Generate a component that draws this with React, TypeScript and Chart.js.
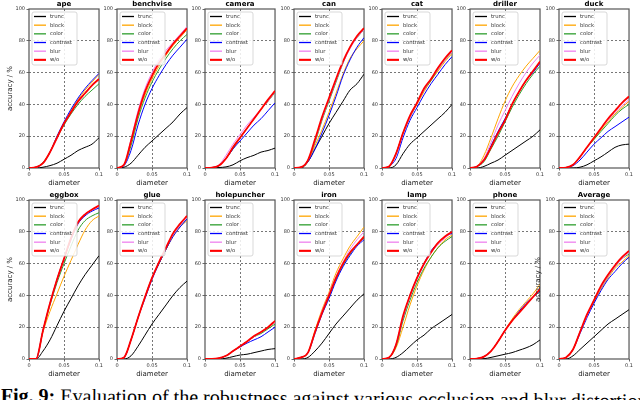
import React, { useEffect, useRef } from "react";
import { Chart, registerables } from "chart.js";

Chart.register(...registerables);

// ---------- data ----------
const DIAMETER = [0, 0.01, 0.02, 0.03, 0.04, 0.05, 0.06, 0.07, 0.08, 0.09, 0.1];
const SERIES_KEYS = ["trunc", "block", "color", "contrast", "blur", "wo"];
const SERIES_NAMES = ["trunc", "block", "color", "contrast", "blur", "w/o"];
const SERIES_COLORS = ["#000000", "#FFA500", "#2E9E2E", "#0000FF", "#EE82EE", "#FF0000"];
const SERIES_WIDTHS = [1, 1, 1, 1, 1, 1.8];
const Y_TICKS = [0, 20, 40, 60, 80, 100];
const X_TICKS = [0, 0.05, 0.1];

const ape = {
  trunc: [0, 0, 0.5, 1.5, 3, 5.5, 8, 11, 13, 15, 19],
  block: [0, 0.5, 3, 10, 20, 28, 36, 43, 49, 54, 59],
  color: [0, 0.5, 3.5, 10, 19, 27, 34, 40, 45, 49, 53],
  contrast: [0, 0.5, 3, 10, 20, 29, 37, 44, 50, 55, 59.5],
  blur: [0, 0.5, 3, 10, 19, 28, 35, 41, 47, 52, 56],
  wo: [0, 0.5, 3, 10, 19, 28, 35, 42, 47, 52, 56],
};
const benchvise = {
  trunc: [0, 0.5, 3, 8, 13, 17, 21, 25, 29, 34, 38],
  block: [0, 2, 16, 33, 46, 56, 64, 71, 77, 82, 87],
  color: [0, 2, 14, 31, 44, 54, 62, 69, 75, 80, 84],
  contrast: [0, 1.5, 11, 27, 40, 50, 58, 65, 71, 76, 81],
  blur: [0, 2, 18, 36, 50, 60, 68, 74, 79, 84, 89],
  wo: [0, 2, 17, 34, 48, 58, 66, 72, 78, 83, 88],
};
const camera = {
  trunc: [0, 0, 0.3, 0.7, 2, 4.5, 6.5, 8, 10, 11, 12.5],
  block: [0, 0.3, 1.5, 6, 13, 19, 25, 31, 37, 42, 48],
  color: [0, 0.3, 1.5, 6, 12, 19, 25, 31, 37, 42, 47.5],
  contrast: [0, 0.3, 1.5, 6, 12, 17, 22, 27, 31, 36, 41],
  blur: [0, 0.3, 2, 8, 15, 21, 27, 32, 37, 42, 48],
  wo: [0, 0.3, 1.5, 6, 13, 19, 25, 31, 37, 43, 48.5],
};
const can = {
  trunc: [0, 0, 4, 12, 20, 28, 35, 42, 49, 53, 59],
  block: [0, 0.5, 4, 14, 24, 35, 47, 59, 69, 75, 80],
  color: [0, 0.5, 5, 16, 30, 42, 54, 66, 76, 82, 87],
  contrast: [0, 0.5, 4, 12, 22, 33, 45, 58, 68, 76, 82],
  blur: [0, 0.5, 5, 17, 31, 43, 55, 66, 75, 82, 87],
  wo: [0, 0.5, 5, 18, 32, 44, 56, 67, 76, 83, 88],
};
const cat = {
  trunc: [0, 0, 2, 9, 15, 19, 23, 27, 31, 35, 40],
  block: [0, 1, 9, 22, 32, 40, 48, 55, 61, 67, 72],
  color: [0, 1, 9, 22, 32, 41, 49, 55, 62, 68, 73],
  contrast: [0, 1, 6, 19, 30, 38, 46, 53, 59, 65, 70],
  blur: [0, 1, 9, 22, 32, 41, 49, 56, 62, 68, 73],
  wo: [0, 1, 9, 22, 33, 41, 50, 56, 63, 69, 74],
};
const driller = {
  trunc: [0, 0, 1, 3, 5, 8, 11, 14, 17, 20, 24],
  block: [0, 1, 8, 19, 31, 42, 51, 58, 64, 69, 74],
  color: [0, 1, 4, 12, 20, 29, 38, 46, 53, 59, 64],
  contrast: [0, 1, 5, 14, 23, 31, 40, 48, 55, 60, 66],
  blur: [0, 1, 6, 16, 27, 36, 45, 53, 60, 66, 71],
  wo: [0, 1, 5, 13, 22, 30, 40, 48, 55, 61, 67],
};
const duck = {
  trunc: [0, 0, 0, 0.5, 2, 4.5, 7, 10, 13, 14.5, 15],
  block: [0, 0.3, 2, 7, 13, 18, 24, 29, 34, 38, 42],
  color: [0, 0.3, 2, 7, 13, 18, 23, 28, 33, 37, 40],
  contrast: [0, 0.3, 1.5, 5, 10, 15, 19, 23, 26, 29, 32],
  blur: [0, 0.3, 2, 7, 13, 19, 25, 30, 35, 39, 43],
  wo: [0, 0.3, 2, 7, 13, 19, 25, 31, 36, 41, 45],
};
const eggbox = {
  trunc: [0, 0, 5, 12, 21, 30, 38, 46, 53, 59, 65],
  block: [0, 0, 17, 30, 41, 52, 62, 72, 81, 87, 90],
  color: [0, 0, 18, 34, 48, 60, 71, 81, 87, 90, 92],
  contrast: [0, 0, 18, 35, 50, 63, 75, 85, 90, 93, 95],
  blur: [0, 0, 18, 35, 50, 63, 76, 86, 91, 94, 96],
  wo: [0, 0, 18, 35, 50, 63, 76, 86, 91, 94, 96.5],
};
const glue = {
  trunc: [0, 0, 2, 8, 15, 22, 28, 34, 40, 45, 49],
  block: [0, 1, 12, 26, 39, 51, 60, 69, 77, 83, 87],
  color: [0, 1, 12, 26, 39, 51, 60, 69, 78, 84, 88],
  contrast: [0, 1, 12, 26, 38, 50, 60, 69, 77, 83, 88],
  blur: [0, 1, 12, 26, 39, 51, 61, 70, 78, 84, 89],
  wo: [0, 1, 12, 26, 39, 51, 61, 70, 79, 85, 90],
};
const holepuncher = {
  trunc: [0, 0, 0, 0.5, 1.5, 2.5, 3, 4, 5, 6, 6.5],
  block: [0, 0, 0.5, 2, 5, 8, 11, 14, 17, 20, 23],
  color: [0, 0, 0.5, 2, 5, 8, 11, 14, 16, 19, 22],
  contrast: [0, 0, 0.5, 2, 5, 7.5, 10, 12, 14, 17, 20],
  blur: [0, 0, 0.5, 2, 5, 8, 11, 14, 17, 20, 23],
  wo: [0, 0, 0.5, 2, 5, 8, 11, 14.5, 17, 20, 24],
};
const iron = {
  trunc: [0, 0, 1, 5, 10, 16, 22, 27, 32, 37, 41],
  block: [0, 1, 4, 18, 31, 42, 54, 63, 71, 77, 83],
  color: [0, 1, 4, 17, 29, 39, 50, 59, 66, 72, 76],
  contrast: [0, 1, 4, 16, 28, 38, 49, 58, 65, 71, 75],
  blur: [0, 1, 4, 17, 30, 41, 52, 61, 69, 75, 80],
  wo: [0, 1, 4, 17, 29, 40, 51, 60, 67, 72, 77],
};
const lamp = {
  trunc: [0, 0, 1, 4, 8, 12, 15, 19, 22, 25, 28],
  block: [0, 1, 7, 20, 34, 46, 56, 64, 70, 75, 78],
  color: [0, 1, 8, 24, 37, 48, 57, 64, 70, 74, 77],
  contrast: [0, 1, 9, 26, 40, 51, 60, 68, 73, 77, 79],
  blur: [0, 1, 9, 26, 39, 50, 59, 67, 72, 76, 80],
  wo: [0, 1, 9, 27, 40, 51, 60, 67, 73, 77, 80],
};
const phone = {
  trunc: [0, 0, 0.2, 1, 2, 3, 4, 5.5, 7, 9, 12],
  block: [0, 0.3, 1.5, 5, 11, 18, 25, 31, 36, 41, 47],
  color: [0, 0.3, 1.5, 5, 11, 18, 24, 29, 34, 39, 43],
  contrast: [0, 0.3, 1.5, 5, 11, 18, 24, 30, 35, 39, 43],
  blur: [0, 0.3, 1.5, 5, 11, 18, 24, 29, 34, 39, 44],
  wo: [0, 0.3, 1.5, 5, 11, 18, 24, 29, 34, 39, 44],
};
const average = {
  trunc: [0, 0, 2, 6, 10, 14, 18, 22, 25, 28, 31],
  block: [0, 1, 6, 17, 27, 36, 44, 51, 57, 61, 65],
  color: [0, 1, 6, 17, 27, 37, 45, 52, 58, 63, 66],
  contrast: [0, 1, 6, 16, 26, 35, 43, 50, 55, 60, 64],
  blur: [0, 1, 6, 17, 27, 37, 45, 52, 58, 63, 67],
  wo: [0, 1, 6, 17, 28, 37, 46, 53, 59, 64, 68],
};

const PANEL_TITLES = [
  ["ape", "benchvise", "camera", "can", "cat", "driller", "duck"],
  ["eggbox", "glue", "holepuncher", "iron", "lamp", "phone", "Average"],
];
const PANEL_DATA: any[][] = [
  [ape, benchvise, camera, can, cat, driller, duck],
  [eggbox, glue, holepuncher, iron, lamp, phone, average],
];

// ---------- layout ----------
const COL_LEFT = [29, 117, 205, 294, 382, 470, 559];
const ROW_TOP = [9, 200];
const PLOT_W = 72;
const PLOT_H = 159;
const TOP_PAD = 9;
const X_AXIS_H = 19;
const RIGHT_PAD = 3;
const FONT = "'DejaVu Sans', sans-serif";

const decorPlugin = {
  id: "decor",
  beforeDatasetsDraw(chart: any) {
    const { ctx, chartArea: a } = chart;
    ctx.save();
    ctx.strokeStyle = "#555";
    ctx.lineWidth = 1.2;
    ctx.strokeRect(a.left, a.top, a.right - a.left, a.bottom - a.top);
    ctx.restore();
  },
  afterDatasetsDraw(chart: any) {
    const { ctx, chartArea: a } = chart;
    ctx.save();
    const bx = a.left + 3;
    const by = a.top + 3;
    const bw = 45;
    const bh = 53;
    ctx.beginPath();
    if (ctx.roundRect) ctx.roundRect(bx, by, bw, bh, 2);
    else ctx.rect(bx, by, bw, bh);
    ctx.fillStyle = "rgba(255,255,255,0.85)";
    ctx.fill();
    ctx.strokeStyle = "#cfcfcf";
    ctx.lineWidth = 0.8;
    ctx.stroke();
    chart.data.datasets.forEach((ds: any, i: number) => {
      const y = by + 4.5 + i * 8.67;
      ctx.beginPath();
      ctx.moveTo(bx + 2, y);
      ctx.lineTo(bx + 14, y);
      ctx.strokeStyle = ds.borderColor;
      ctx.lineWidth = ds.borderWidth + 0.3;
      ctx.stroke();
      ctx.fillStyle = "#333";
      ctx.font = `5.3px ${FONT}`;
      ctx.textBaseline = "middle";
      ctx.textAlign = "left";
      ctx.fillText(ds.label, bx + 18, y);
    });
    ctx.restore();
  },
  afterDraw(chart: any, _args: any, opts: any) {
    const { ctx, chartArea: a } = chart;
    ctx.save();
    ctx.fillStyle = "#000";
    ctx.font = `bold 7px ${FONT}`;
    ctx.textAlign = "center";
    ctx.textBaseline = "middle";
    ctx.fillText(opts.title, (a.left + a.right) / 2, a.top - 5);
    ctx.restore();
  },
};

function fmtX(v: number) {
  const r = Math.round(v * 100) / 100;
  return String(r);
}

function Panel({ row, col }: { row: number; col: number }) {
  const ref = useRef<HTMLCanvasElement | null>(null);
  const title = PANEL_TITLES[row][col];
  const d = PANEL_DATA[row][col];
  const showYLabel = col === 0 || (row === 1 && col === 6);
  const yW = col === 0 ? 29 : row === 1 && col === 6 ? 31 : 22;
  const left = COL_LEFT[col] - yW;
  const top = ROW_TOP[row] - TOP_PAD;
  const width = yW + PLOT_W + RIGHT_PAD;
  const height = TOP_PAD + PLOT_H + X_AXIS_H;

  useEffect(() => {
    if (!ref.current) return;
    const chart = new Chart(ref.current, {
      type: "line",
      data: {
        datasets: SERIES_KEYS.map((k, i) => ({
          label: SERIES_NAMES[i],
          data: DIAMETER.map((x, j) => ({ x, y: d[k][j] })),
          borderColor: SERIES_COLORS[i],
          backgroundColor: SERIES_COLORS[i],
          borderWidth: SERIES_WIDTHS[i],
          pointRadius: 0,
          cubicInterpolationMode: "monotone",
          fill: false,
          order: 5 - i,
        })),
      },
      options: {
        animation: false,
        responsive: false,
        events: [],
        layout: { padding: { top: TOP_PAD, right: RIGHT_PAD, left: 0, bottom: 0 } },
        plugins: {
          legend: { display: false },
          tooltip: { enabled: false },
          title: { display: false },
          decor: { title },
        } as any,
        scales: {
          x: {
            type: "linear",
            min: 0,
            max: 0.1,
            afterBuildTicks: (s: any) => {
              s.ticks = X_TICKS.map((v) => ({ value: v }));
            },
            afterFit: (s: any) => {
              s.height = X_AXIS_H;
            },
            ticks: {
              font: { size: 5, family: FONT },
              color: "#333",
              padding: 1,
              maxRotation: 0,
              autoSkip: false,
              callback: (v: any) => fmtX(Number(v)),
            },
            grid: {
              color: (c: any) =>
                c.tick && Math.abs(c.tick.value - 0.05) < 1e-9 ? "#555" : "rgba(0,0,0,0)",
              lineWidth: 0.8,
              tickLength: 2.5,
              tickColor: "#444",
              tickWidth: 0.8,
            },
            border: { display: false, dash: [2, 2] },
            title: {
              display: true,
              text: "diameter",
              font: { size: 7, family: FONT },
              color: "#222",
              padding: 0,
            },
          },
          y: {
            type: "linear",
            min: 0,
            max: 100,
            afterBuildTicks: (s: any) => {
              s.ticks = Y_TICKS.map((v) => ({ value: v }));
            },
            afterFit: (s: any) => {
              s.width = yW;
            },
            ticks: {
              font: { size: 5, family: FONT },
              color: "#333",
              padding: 1.5,
              autoSkip: false,
            },
            grid: {
              color: (c: any) =>
                c.tick && c.tick.value > 0 && c.tick.value < 100 ? "#555" : "rgba(0,0,0,0)",
              lineWidth: 0.8,
              tickLength: 2.5,
              tickColor: "#444",
              tickWidth: 0.8,
            },
            border: { display: false, dash: [2, 2] },
            title: {
              display: showYLabel,
              text: "accuracy / %",
              font: { size: 7, family: FONT },
              color: "#222",
              padding: { top: 6, bottom: 6 },
            },
          },
        },
      } as any,
      plugins: [decorPlugin],
    });
    return () => chart.destroy();
  }, []);

  return (
    <canvas
      ref={ref}
      width={width}
      height={height}
      style={{ position: "absolute", left, top, width, height, display: "block" }}
    />
  );
}

export default function App() {
  const panels = [];
  for (let r = 0; r < 2; r++) {
    for (let c = 0; c < 7; c++) panels.push(<Panel key={`${r}-${c}`} row={r} col={c} />);
  }
  return (
    <div
      style={{
        position: "absolute",
        left: 0,
        top: 0,
        width: 640,
        height: 400,
        overflow: "hidden",
        background: "#fff",
      }}
    >
      {panels}
      <div
        style={{
          position: "absolute",
          left: 1,
          top: 385,
          whiteSpace: "nowrap",
          fontFamily: "'Liberation Serif', serif",
          fontSize: 20,
          lineHeight: "20px",
          color: "#000",
          transform: "rotate(0.5deg)",
          transformOrigin: "0 0",
        }}
      >
        <b>Fig. 9:</b> Evaluation of the robustness against various occlusion and blur distortions of the test data
      </div>
    </div>
  );
}
